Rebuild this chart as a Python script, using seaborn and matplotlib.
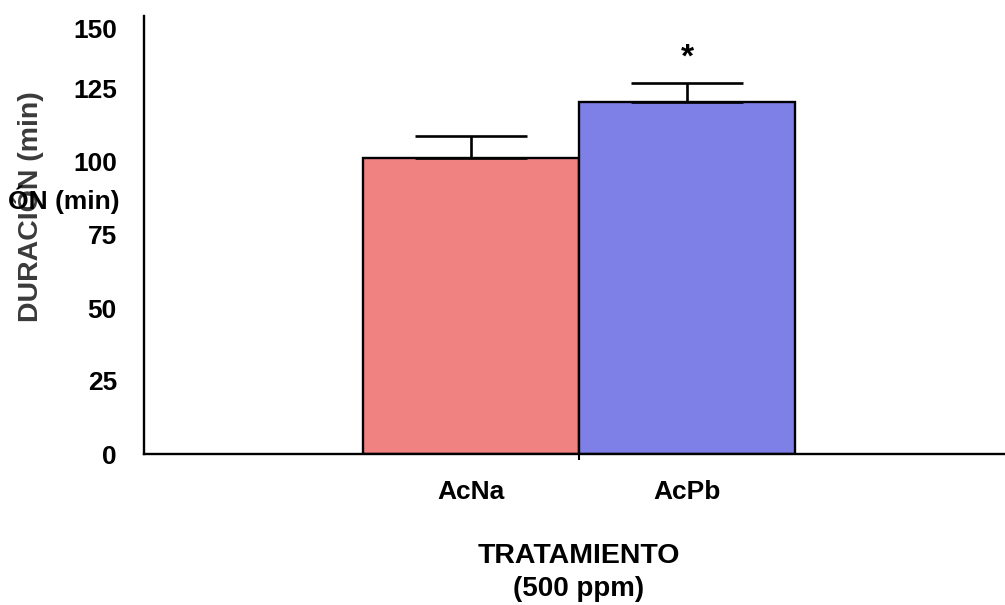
import matplotlib
matplotlib.use("Agg")
import matplotlib.pyplot as plt
import seaborn as sns
import pandas as pd

# ---- data ----
categories = ["AcNa", "AcPb"]
means = [101.5, 120.7]
sem = [7.3, 6.3]
bar_colors = ["#F08282", "#7F7FE8"]
y_ticks = [0, 25, 50, 75, 100, 125, 150]
significance = ["", "*"]
ylabel_text = "DURACIÓN (min)"
stray_text = "ÓN (min)"
xlabel_text = "TRATAMIENTO\n(500 ppm)"

sns.set_theme(style="white")
plt.rcParams["font.family"] = ["Liberation Sans", "DejaVu Sans"]
plt.rcParams["font.weight"] = "bold"
plt.rcParams["text.color"] = "black"

W, H = 1005, 605
fig = plt.figure(figsize=(W / 100, H / 100), dpi=100)
ax = fig.add_axes([144 / W, 1 - 454 / H, (W - 144) / W, (454 - 16) / H])

df = pd.DataFrame({"cat": categories, "mean": means})
sns.barplot(data=df, x="cat", y="mean", hue="cat", palette=bar_colors,
            width=1.0, saturation=1, edgecolor="black", linewidth=1.7,
            legend=False, ax=ax, errorbar=None)

xs = list(range(len(categories)))
ax.errorbar(xs, means, yerr=[[0] * len(sem), sem], fmt="none", ecolor="black",
            elinewidth=1.9, capsize=40, capthick=1.9, zorder=5)

for x, m, e, s in zip(xs, means, sem, significance):
    if s:
        ax.annotate(s, xy=(x, m + e), xytext=(0, 10), textcoords="offset pixels",
                    ha="center", va="bottom", fontsize=24, fontweight="bold",
                    color="black")

ax.set_xlim(-1.514, 2.47)
ax.set_ylim(0, 150)

for side in ["top", "right"]:
    ax.spines[side].set_visible(False)
for side in ["left", "bottom"]:
    ax.spines[side].set_color("black")
    ax.spines[side].set_linewidth(1.7)

ax.set_yticks(y_ticks)
ax.set_yticklabels([str(t) if t != y_ticks[-1] else "" for t in y_ticks])
ax.tick_params(axis="y", which="major", direction="out", length=4.5, width=1.5,
               color="black", pad=15, labelsize=19, labelcolor="black")
# Top label sits lower, inside the plot area
ax.annotate(str(y_ticks[-1]), xy=(0, y_ticks[-1]), xycoords=("axes fraction", "data"),
            xytext=(-27, -15), textcoords="offset pixels", ha="right", va="center",
            fontsize=19, fontweight="bold", color="black")

ax.set_xticks(xs)
ax.set_xticklabels(categories)
ax.set_xticks([0.5], minor=True)
ax.tick_params(axis="x", which="major", length=0, pad=19, labelsize=19,
               labelcolor="black")
ax.tick_params(axis="x", which="minor", direction="out", length=4, width=1.5,
               color="black", bottom=True)
for lab in ax.get_xticklabels() + ax.get_yticklabels():
    lab.set_fontweight("bold")

ax.set_xlabel("")
ax.set_ylabel("")
line1, line2 = xlabel_text.split("\n")
fig.text(579 / W, 1 - 556 / H, line1, ha="center", va="center",
         fontsize=20.5, fontweight="bold", color="black")
fig.text(579 / W, 1 - 589 / H, line2, ha="center", va="center",
         fontsize=20, fontweight="bold", color="black")

fig.text(28 / W, 1 - 207 / H, ylabel_text, rotation=90, ha="center", va="center",
         fontsize=20.5, fontweight="bold", color="#3a3a3a")
fig.text(8 / W, 1 - 200 / H, stray_text, ha="left", va="center",
         fontsize=19, fontweight="bold", color="black")

fig.savefig("out.png", dpi=100)
